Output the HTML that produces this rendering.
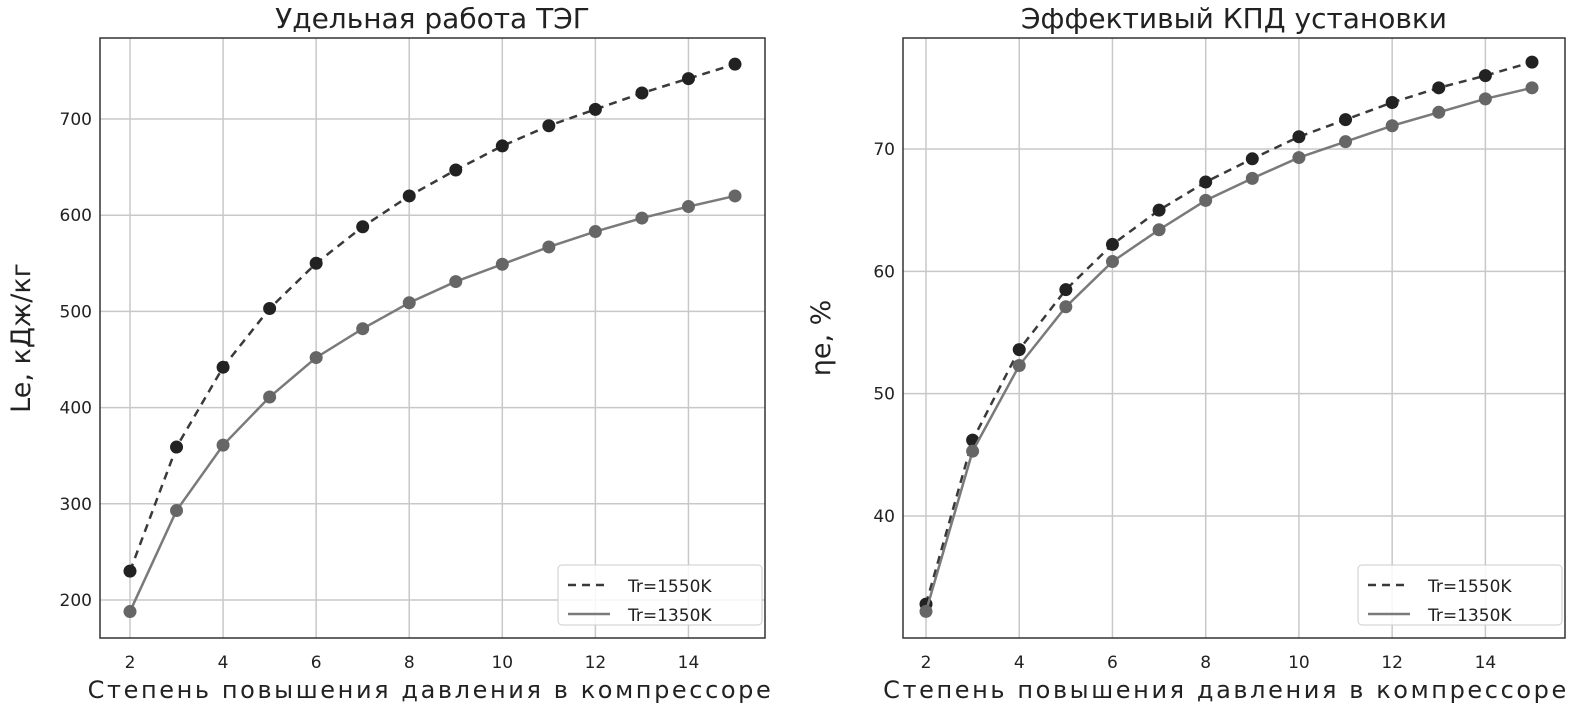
<!DOCTYPE html>
<html><head><meta charset="utf-8"><style>
body{margin:0;background:#fff;}
svg text{font-family:"DejaVu Sans","Liberation Sans",sans-serif;fill:#222;}
</style></head><body>
<svg id="chart" width="1577" height="708" viewBox="0 0 1577 708" xmlns="http://www.w3.org/2000/svg"></svg>
<script>
const categories=[2,3,4,5,6,7,8,9,10,11,12,13,14,15];
const xTicks=[2,4,6,8,10,12,14];
const leWork1550=[230,359,442,503,550,588,620,647,672,693,710,727,742,757];
const leWork1350=[188,293,361,411,452,482,509,531,549,567,583,597,609,620];
const leTicks=[200,300,400,500,600,700];
const eff1550=[32.8,46.2,53.6,58.5,62.2,65.0,67.3,69.2,71.0,72.4,73.8,75.0,76.0,77.1];
const eff1350=[32.2,45.3,52.3,57.1,60.8,63.4,65.8,67.6,69.3,70.6,71.9,73.0,74.1,75.0];
const effTicks=[40,50,60,70];
const legendLabels=['Tr=1550K','Tr=1350K'];

const svg=document.getElementById('chart');
const NS='http://www.w3.org/2000/svg';
function mk(tag,attrs,parent){const e=document.createElementNS(NS,tag);for(const k in attrs)e.setAttribute(k,attrs[k]);(parent||svg).appendChild(e);return e;}

function panel(cfg){
  const g=mk('g',{});
  
  
  const X=v=>cfg.x0+(v-2)*(cfg.x15-cfg.x0)/13;
  const Y=v=>cfg.ya+(v-cfg.va)*(cfg.yb-cfg.ya)/(cfg.vb-cfg.va);
  xTicks.forEach(t=>{
    const l=mk('line',{x1:X(t),x2:X(t),y1:cfg.top,y2:cfg.bottom,stroke:'#c8c8c8','stroke-width':1.5},g);
    
    
    const tx=mk('text',{x:X(t),y:cfg.bottom+30,'font-size':17,'text-anchor':'middle'},g);
    
    
    tx.textContent=t;
  });
  cfg.yTicks.forEach(t=>{
    const l=mk('line',{x1:cfg.left,x2:cfg.right,y1:Y(t),y2:Y(t),stroke:'#c8c8c8','stroke-width':1.5},g);
    
    
    const tx=mk('text',{x:cfg.left-8,y:Y(t)+6,'font-size':17,'text-anchor':'end'},g);
    
    
    tx.textContent=t;
  });
  const fr=mk('rect',{x:cfg.left,y:cfg.top,width:cfg.right-cfg.left,height:cfg.bottom-cfg.top,fill:'none',stroke:'#333','stroke-width':1.5},g);
  
  
  const series=[{d:cfg.s1,c:'#3a3a3a',m:'#222',dash:'8,6',n:'series-1550k'},{d:cfg.s2,c:'#7a7a7a',m:'#666',dash:'',n:'series-1350k'}];
  series.forEach(s=>{
    const p=mk('polyline',{points:categories.map((c,i)=>X(c)+','+Y(s.d[i])).join(' '),fill:'none',stroke:s.c,'stroke-width':2.5,'stroke-dasharray':s.dash},g);
    
    
    categories.forEach((c,i)=>{
      const m=mk('circle',{cx:X(c),cy:Y(s.d[i]),r:6.5,fill:s.m},g);
      
      
    });
  });
  const lg=mk('g',{},g);
  
  
  mk('rect',{x:cfg.right-207,y:cfg.bottom-73,width:204,height:60,rx:4,fill:'#fff','fill-opacity':0.85,stroke:'#ccc'},lg);
  series.forEach((s,i)=>{
    const y=cfg.bottom-53+i*29;
    mk('line',{x1:cfg.right-197,x2:cfg.right-155,y1:y,y2:y,stroke:s.c,'stroke-width':2.5,'stroke-dasharray':s.dash},lg);
    const t=mk('text',{x:cfg.right-137,y:y+7,'font-size':17},lg);
    
    
    t.textContent=legendLabels[i];
  });
  const ti=mk('text',{x:(cfg.left+cfg.right)/2,y:28,'font-size':28,'text-anchor':'middle'},g);
  
  
  ti.textContent=cfg.title;
  const xl=mk('text',{x:(cfg.left+cfg.right)/2+(cfg.xlShift||0),y:698,'font-size':24,'text-anchor':'middle','letter-spacing':'2.6'},g);
  
  
  xl.textContent='Степень повышения давления в компрессоре';
  const yl=mk('text',{x:0,y:0,'font-size':27,'text-anchor':'middle',transform:'translate('+cfg.ylx+','+((cfg.top+cfg.bottom)/2)+') rotate(-90)'},g);
  
  
  yl.textContent=cfg.ylabel;
}
panel({name:'specific-work-panel',left:100,right:765,top:38,bottom:638,x0:130,x15:735,va:200,ya:600,vb:700,yb:119,yTicks:leTicks,s1:leWork1550,s2:leWork1350,title:'Удельная работа ТЭГ',ylabel:'Le, кДж/кг',ylx:30,xlShift:-2});
panel({name:'efficiency-panel',left:903,right:1565,top:38,bottom:638,x0:926,x15:1532,va:40,ya:516,vb:70,yb:149,yTicks:effTicks,s1:eff1550,s2:eff1350,title:'Эффективый КПД установки',ylabel:'ηe, %',ylx:830,xlShift:-8});
</script>
</body></html>
